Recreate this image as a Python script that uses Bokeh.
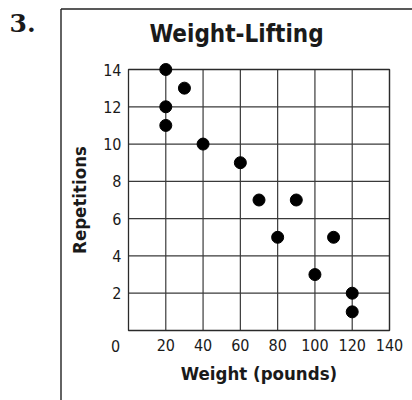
from bokeh.plotting import figure
from bokeh.models import Range1d, FixedTicker, Label
from bokeh.embed import file_html
from bokeh.resources import INLINE

# data
weight = [20, 20, 20, 30, 40, 60, 70, 80, 90, 100, 110, 120, 120]
reps = [14, 12, 11, 13, 10, 9, 7, 5, 7, 3, 5, 2, 1]
x_ticks = [20, 40, 60, 80, 100, 120, 140]
y_ticks = [2, 4, 6, 8, 10, 12, 14]
x_min, x_max = 0, 140
y_min, y_max = 0, 14
title_text = "Weight-Lifting"
x_label = "Weight (pounds)"
y_label = "Repetitions"
problem_no = "3."
origin_label = "0"

SANS = "DejaVu Sans Condensed, DejaVu Sans, sans-serif"
SERIF = "DejaVu Serif, serif"
INK = "#1a1a1a"

# layout (pixels)
W, H = 412, 400
PL, PR, PT, PB = 128, 389, 69, 330  # plot area in page px
sx = (PR - PL) / (x_max - x_min)
sy = (PB - PT) / (y_max - y_min)
x_range = Range1d(x_min - PL / sx, x_max + (W - PR) / sx)
y_range = Range1d(y_min - (H - PB) / sy, y_max + PT / sy)


def px2x(px):
    return x_min + (px - PL) / sx


def px2y(py):
    return y_min + (PB - py) / sy


p = figure(width=W, height=H, output_backend="svg", toolbar_location=None,
           x_range=x_range, y_range=y_range, min_border=0,
           min_border_left=0, min_border_right=0, min_border_top=0, min_border_bottom=0)
p.title.visible = False
p.title.text = ""
p.outline_line_color = None
p.background_fill_color = "white"
p.border_fill_color = "white"
p.xgrid.grid_line_color = None
p.ygrid.grid_line_color = None

# axes drawn at the plot-area edges
for ax in (p.xaxis[0], p.yaxis[0]):
    ax.fixed_location = 0
    ax.axis_line_color = None
    ax.major_tick_line_color = None
    ax.minor_tick_line_color = None
    ax.major_tick_in = 0
    ax.major_tick_out = 0
    ax.minor_tick_in = 0
    ax.minor_tick_out = 0
    ax.major_label_text_font = SANS
    ax.major_label_text_font_size = "16px"
    ax.major_label_text_color = INK
    ax.axis_label_text_font = SANS
    ax.axis_label_text_font_style = "bold"
    ax.axis_label_text_font_size = "18.5px"
    ax.axis_label_text_color = INK

p.xaxis.bounds = (x_min, x_max)
p.yaxis.bounds = (y_min, y_max)
p.xaxis.ticker = FixedTicker(ticks=x_ticks)
p.yaxis.ticker = FixedTicker(ticks=y_ticks)
p.xaxis.major_label_standoff = 8
p.yaxis.major_label_standoff = 7
p.xaxis.axis_label = x_label
p.yaxis.axis_label = y_label
p.xaxis.axis_label_standoff = 9
p.yaxis.axis_label_standoff = 10

# grid lines from the tick lists
p.segment(x0=x_ticks, y0=[y_min] * len(x_ticks), x1=x_ticks, y1=[y_max] * len(x_ticks),
          line_color="#3a3a3a", line_width=1.2)
p.segment(x0=[x_min] * len(y_ticks), y0=y_ticks, x1=[x_max] * len(y_ticks), y1=y_ticks,
          line_color="#3a3a3a", line_width=1.2)
p.quad(left=[x_min], right=[x_max], bottom=[y_min], top=[y_max], fill_color=None,
       line_color="#2a2a2a", line_width=1.3)

p.scatter(weight, reps, size=12, color="black")

# outer box (left + top edges)
p.segment(x0=[px2x(60.5), px2x(60.5)], y0=[px2y(8.5), px2y(8.5)],
          x1=[px2x(60.5), px2x(W + 5)], y1=[px2y(H + 5), px2y(8.5)],
          line_color="#222222", line_width=1.4)

p.add_layout(Label(x=px2x(236), y=px2y(33), text=title_text, text_align="center",
                   text_baseline="alphabetic", text_font=SANS, text_font_style="bold",
                   text_font_size="24px", text_color=INK))
p.add_layout(Label(x=px2x(9), y=px2y(22), text=problem_no, text_align="left",
                   text_baseline="alphabetic", text_font=SERIF, text_font_style="bold",
                   text_font_size="25px", text_color=INK))
p.add_layout(Label(x=px2x(115), y=px2y(345), text=origin_label, text_align="center",
                   text_baseline="alphabetic", text_font=SANS,
                   text_font_size="16px", text_color=INK))

open("out.html", "w").write(file_html(p, INLINE))
